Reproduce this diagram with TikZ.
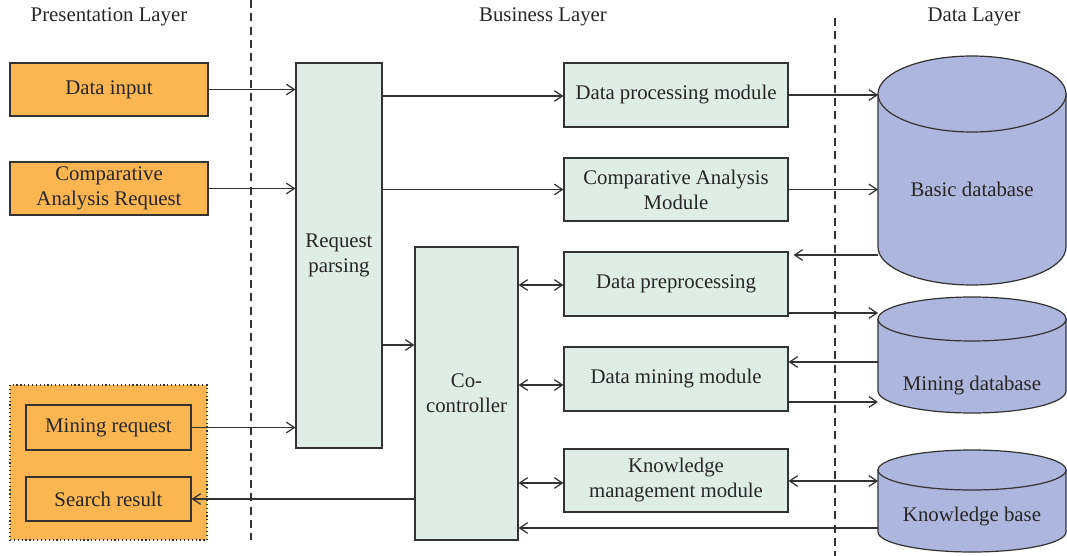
\documentclass[tikz,border=0pt]{standalone}
\usepackage{fontspec}
\setmainfont{Liberation Serif}
\usetikzlibrary{arrows.meta}
\definecolor{inorange}{HTML}{FBB652}
\definecolor{modgreen}{HTML}{DEEEE6}
\definecolor{dbblue}{HTML}{ADB6DC}
\definecolor{edge}{HTML}{333333}
\tikzset{
  txt/.style={font=\fontsize{15.6}{18.75}\selectfont, text=black!85, align=center},
  inbox/.style={txt, draw=edge, line width=0.9pt, fill=inorange, inner sep=0pt},
  modbox/.style={txt, draw=edge, line width=0.9pt, fill=modgreen, inner sep=0pt},
  anchorbox/.style={inner sep=0pt, outer sep=0pt},
  dbbody/.style={draw=edge, line width=0.9pt, fill=dbblue},
  conn/.style={draw=edge, line width=0.9pt},
  tip/.style={-{Straight Barb[length=6pt,width=8pt]}},
  tips/.style={{Straight Barb[length=6pt,width=8pt]}-{Straight Barb[length=6pt,width=8pt]}},
  divider/.style={draw=edge, line width=0.8pt, dash pattern=on 6pt off 4pt}
}
\begin{document}
\begin{tikzpicture}[x=0.75pt,y=-0.75pt]
\useasboundingbox[fill=white] (0,0) rectangle (1067,556);

% layer dividers and headings
\draw[divider] (251,0) -- (251,540);
\draw[divider] (835,18) -- (835,556);
\node[txt] (hpres) at (109,17) {Presentation Layer};
\node[txt] (hbus) at (543,17) {Business Layer};
\node[txt] (hdata) at (974,17) {Data Layer};

% presentation layer
\node[inbox, minimum width=198*0.75pt, minimum height=53*0.75pt] (din) at (109,89.5) {Data input};
\node[inbox, minimum width=198*0.75pt, minimum height=53*0.75pt] (car) at (109,188.5) {Comparative\\Analysis Request};
\node[draw=edge, line width=0.9pt, dotted, fill=inorange, minimum width=197*0.75pt, minimum height=155*0.75pt, inner sep=0pt] (grp) at (108.5,462.5) {};
\node[inbox, minimum width=165*0.75pt, minimum height=45*0.75pt] (mreq) at (108.5,427.5) {Mining request};
\node[inbox, minimum width=165*0.75pt, minimum height=44*0.75pt] (sres) at (108.5,499) {Search result};

% business layer
\node[modbox, minimum width=86*0.75pt, minimum height=385*0.75pt] (rp) at (339,255.5) {Request\\parsing};
\node[modbox, minimum width=103*0.75pt, minimum height=293*0.75pt] (cc) at (466.5,393.5) {Co-\\controller};
\node[modbox, minimum width=224*0.75pt, minimum height=64*0.75pt] (dpm) at (676,95) {Data processing module};
\node[modbox, minimum width=224*0.75pt, minimum height=63*0.75pt] (cam) at (676,189.5) {Comparative Analysis\\Module};
\node[modbox, minimum width=224*0.75pt, minimum height=64*0.75pt] (dpp) at (676,284) {Data preprocessing};
\node[modbox, minimum width=224*0.75pt, minimum height=64*0.75pt] (dmm) at (676,379) {Data mining module};
\node[modbox, minimum width=224*0.75pt, minimum height=63*0.75pt] (kmm) at (676,480.5) {Knowledge\\management module};

% data layer: cylinders
\path[dbbody] (878,94) -- (878,247) arc[start angle=180,end angle=0,x radius=94,y radius=38] -- (1066,94) -- cycle;
\path[dbbody] (972,94) ellipse[x radius=94,y radius=38];
\node[anchorbox, minimum width=188*0.75pt, minimum height=229*0.75pt] (bdb) at (972,170) {};
\node[txt] (bdbl) at (972,189) {Basic database};

\path[dbbody] (878,319) -- (878,391) arc[start angle=180,end angle=0,x radius=94,y radius=22] -- (1066,319) -- cycle;
\path[dbbody] (972,319) ellipse[x radius=94,y radius=22];
\node[anchorbox, minimum width=188*0.75pt, minimum height=116*0.75pt] (mdb) at (972,355) {};
\node[txt] (mdbl) at (972,386) {Mining database};

\path[dbbody] (878,470) -- (878,532) arc[start angle=180,end angle=0,x radius=94,y radius=20] -- (1066,470) -- cycle;
\path[dbbody] (972,470) ellipse[x radius=94,y radius=20];
\node[anchorbox, minimum width=188*0.75pt, minimum height=102*0.75pt] (kdb) at (972,501) {};
\node[txt] (kdbl) at (972,517) {Knowledge base};

% presentation -> request parsing
\draw[conn, tip] (din.east) -- (din.east -| rp.west);
\draw[conn, tip] (car.east) -- (car.east -| rp.west);
\draw[conn, tip] (mreq.east) -- (mreq.east -| rp.west);
\draw[conn, tip] (sres.east -| cc.west) -- (sres.east);

% request parsing -> modules
\draw[conn, tip] (rp.east |- 0,96) -- (dpm.west |- 0,96);
\draw[conn, tip] (rp.east |- cam.east) -- (cam.west);
\draw[conn, tip] (rp.east |- 0,345) -- (cc.west |- 0,345);

% co-controller <-> modules
\draw[conn, tips] (cc.east |- 0,285) -- (dpp.west |- 0,285);
\draw[conn, tips] (cc.east |- 0,385) -- (dmm.west |- 0,385);
\draw[conn, tips] (cc.east |- 0,483) -- (kmm.west |- 0,483);

% modules <-> databases
\draw[conn, tip] (dpm.east) -- (dpm.east -| bdb.west);
\draw[conn, tip] (cam.east) -- (cam.east -| bdb.west);
\draw[conn, tip] (bdb.west |- 0,255) -- ([xshift=5*0.75pt]dpp.east |- 0,255);
\draw[conn, tip] (dpp.east |- 0,313) -- (mdb.west |- 0,313);
\draw[conn, tip] (mdb.west |- 0,362) -- (dmm.east |- 0,362);
\draw[conn, tip] (dmm.east |- 0,402) -- (mdb.west |- 0,402);
\draw[conn, tips] (kmm.east |- 0,481) -- (kdb.west |- 0,481);
\draw[conn, tip] (kdb.west |- 0,528) -- (cc.east |- 0,528);
\end{tikzpicture}
\end{document}
